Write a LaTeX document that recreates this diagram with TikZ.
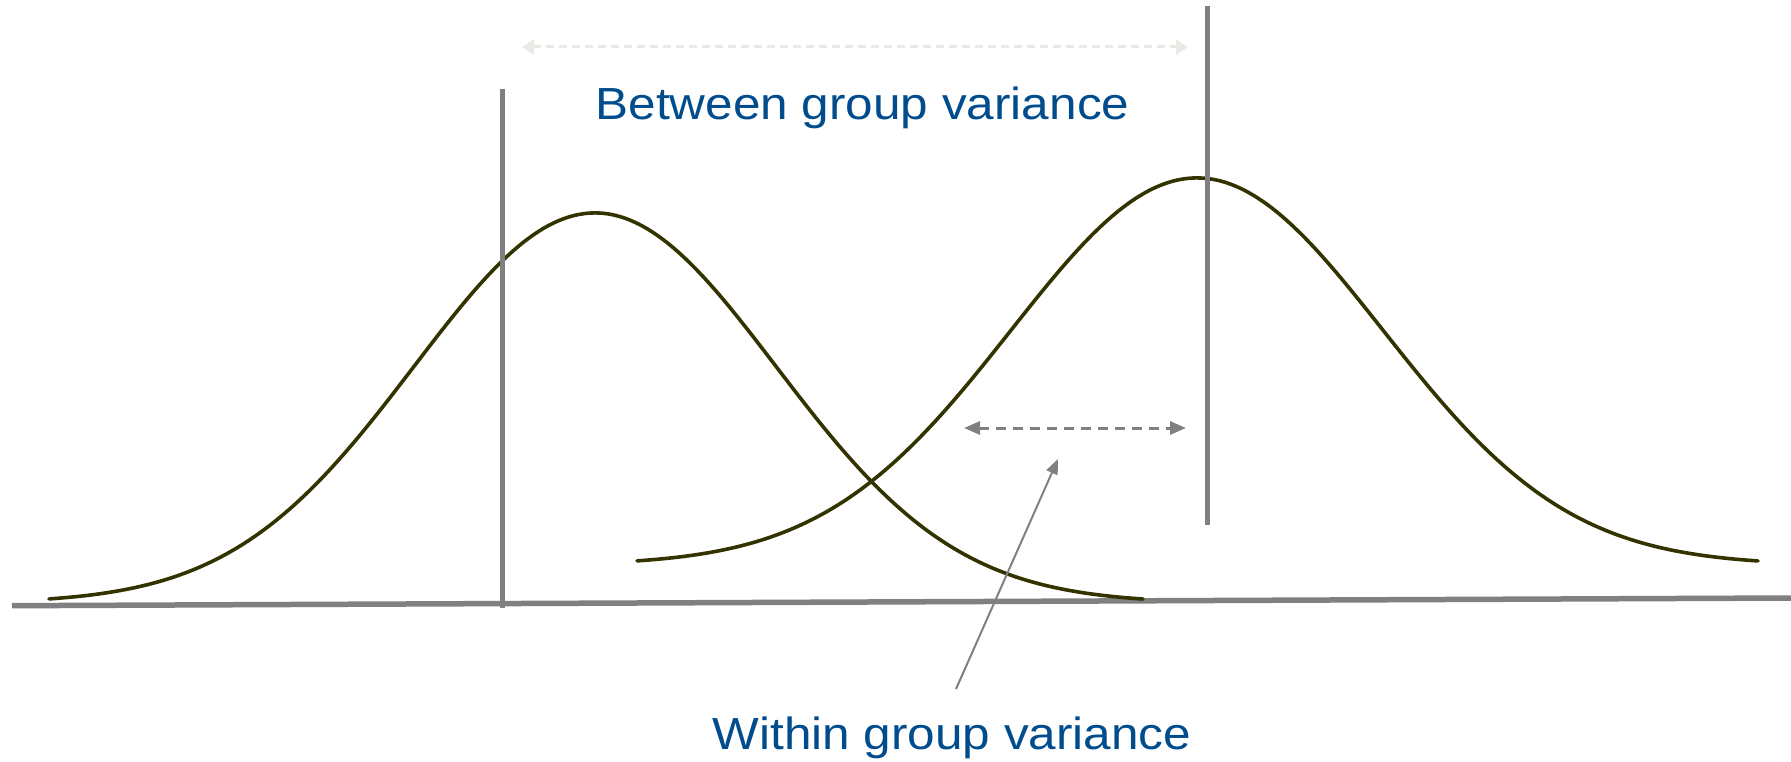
\documentclass[tikz,border=0pt]{standalone}
\usepackage{fontspec}
\setmainfont{Liberation Sans}
\usetikzlibrary{arrows.meta}
\definecolor{txtblue}{RGB}{0,76,140}
\definecolor{curvecol}{RGB}{51,51,0}
\definecolor{axisgray}{RGB}{128,128,128}
\definecolor{lightarrow}{RGB}{234,234,229}
\tikzset{
  axisline/.style={draw=axisgray, line width=5.5pt},
  meanline/.style={draw=axisgray, line width=5pt},
  bell/.style={draw=curvecol, line width=3.6pt, line join=round, line cap=round},
  betweenarrow/.style={draw=lightarrow, line width=3pt, dash pattern=on 8pt off 5pt,
    {Triangle[length=12pt,width=15pt]}-{Triangle[length=12pt,width=15pt]}},
  withinarrow/.style={draw=axisgray, line width=3pt, dash pattern=on 10pt off 7pt,
    {Triangle[length=16pt,width=13pt]}-{Triangle[length=16pt,width=13pt]}},
  pointer/.style={draw=axisgray, line width=2pt, -{Triangle[length=15pt,width=12pt]}},
  label/.style={text=txtblue, inner sep=0pt, anchor=base,
    font=\fontsize{45}{54}\selectfont}
}
\begin{document}
\begin{tikzpicture}[x=1pt,y=-1pt]
\useasboundingbox (0,0) rectangle (1791,762);
% axis
\coordinate (axL) at (12,605.7);
\coordinate (axR) at (1791,598);
\draw[axisline] (axL) -- (axR);
% bell curves
\draw[bell] plot[domain=49:1143, samples=220, smooth] (\x,{603-390*exp(-((\x-595)/181)^2/2)});
\draw[bell] plot[domain=637:1758, samples=220, smooth] (\x,{565-387*exp(-((\x-1197)/186)^2/2)});
% mean lines
\coordinate (m1top) at (502.5,89);
\coordinate (m1bot) at (502.5,608);
\coordinate (m2top) at (1207,6);
\coordinate (m2bot) at (1207,525);
\draw[meanline] (m1top) -- (m1bot);
\draw[meanline] (m2top) -- (m2bot);
% between arrow
\coordinate (bL) at (522,47);
\coordinate (bR) at (1188,47);
\draw[betweenarrow] (bL) -- (bR);
\node[label] (between) at (862.5,119.5) {\scalebox{1.10}[1]{Between group variance}};
% within arrow
\coordinate (wL) at (964,428);
\coordinate (wR) at (1186,428);
\draw[withinarrow] (wL) -- (wR);
\node[label] (within) at (952,749) {\scalebox{1.10}[1]{Within group variance}};
\coordinate (pStart) at (956,689);
\coordinate (pEnd) at (1058,459);
\draw[pointer] (pStart) -- (pEnd);
\end{tikzpicture}
\end{document}
